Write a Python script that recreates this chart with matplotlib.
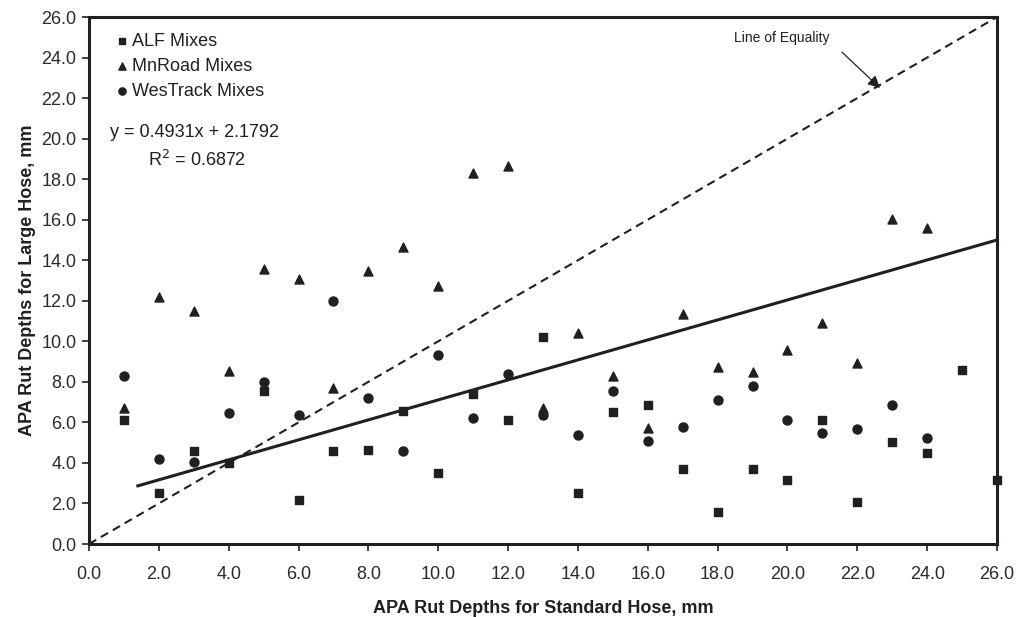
import numpy as np
import matplotlib.pyplot as plt

plt.rcParams['font.family'] = ['Liberation Sans', 'DejaVu Sans']

# rut depths (x = standard hose, y = large hose), mm
alf_x = [1, 2, 3, 4, 5, 6, 7, 8, 9, 10, 11, 12, 13, 14, 15, 16, 17, 18, 19, 20, 21, 22, 23, 24, 25, 26]
alf_y = [6.1, 2.5, 4.6, 4.0, 7.55, 2.17, 4.6, 4.65, 6.56, 3.5, 7.4, 6.1, 10.2, 2.5, 6.5, 6.86,
         3.7, 1.58, 3.7, 3.15, 6.1, 2.07, 5.03, 4.48, 8.58, 3.15]

mn_x = [1, 2, 3, 4, 5, 6, 7, 8, 9, 10, 11, 12, 13, 14, 15, 16, 17, 18, 19, 20, 21, 22, 23, 24]
mn_y = [6.7, 12.2, 11.5, 8.53, 13.55, 13.07, 7.7, 13.45, 14.65, 12.75, 18.3, 18.65, 6.7, 10.4,
        8.3, 5.72, 11.35, 8.73, 8.5, 9.57, 10.9, 8.95, 16.05, 15.6]

wes_x = [1, 2, 3, 4, 5, 6, 7, 8, 9, 10, 11, 12, 13, 14, 15, 16, 17, 18, 19, 20, 21, 22, 23, 24]
wes_y = [8.3, 4.2, 4.05, 6.45, 8.0, 6.38, 12.0, 7.2, 4.58, 9.32, 6.2, 8.4, 6.37, 5.37, 7.55, 5.1,
         5.77, 7.1, 7.82, 6.1, 5.5, 5.65, 6.85, 5.22]

slope, intercept = 0.4931, 2.1792
fit_x = [1.4, 26.0]

ticks = np.arange(0, 26.1, 2.0)
c = '#231f20'

fig = plt.figure(figsize=(10.19, 6.17), dpi=100)
ax = fig.add_axes([0.0873, 0.1183, 0.8911, 0.8541])

ax.plot([0, 26], [0, 26], ls=(0, (4, 2.6)), color=c, lw=1.5)
ax.plot(fit_x, [slope * v + intercept for v in fit_x], color=c, lw=2.2)

ax.scatter(alf_x, alf_y, marker='s', s=38, color=c, label='ALF Mixes', clip_on=False, zorder=3)
ax.scatter(mn_x, mn_y, marker='^', s=42, color=c, label='MnRoad Mixes', clip_on=False, zorder=3)
ax.scatter(wes_x, wes_y, marker='o', s=42, color=c, label='WesTrack Mixes', clip_on=False, zorder=3)

ax.set_xlim(0, 26)
ax.set_ylim(0, 26)
ax.set_xticks(ticks)
ax.set_yticks(ticks)
ax.set_xticklabels([f'{t:.1f}' for t in ticks])
ax.set_yticklabels([f'{t:.1f}' for t in ticks])
ax.tick_params(direction='out', length=5, width=1.2, colors=c, labelsize=13, labelcolor='#2b2b2b')
ax.tick_params(axis='x', pad=11)
ax.tick_params(axis='y', pad=4)
for s in ax.spines.values():
    s.set_linewidth(2.2)
    s.set_color(c)

ax.set_xlabel('APA Rut Depths for Standard Hose, mm', fontsize=13, fontweight='bold', color=c, labelpad=12)
ax.set_ylabel('APA Rut Depths for Large Hose, mm', fontsize=13, fontweight='bold', color=c, labelpad=4)

leg = ax.legend(loc='upper left', frameon=False, fontsize=13, markerscale=0.8,
                handletextpad=0.1, handlelength=1.0, labelspacing=0.45,
                borderaxespad=0.0, bbox_to_anchor=(0.018, 0.984))
for t in leg.get_texts():
    t.set_color(c)

ax.text(0.6, 20.28, 'y = 0.4931x + 2.1792', fontsize=13, color=c, ha='left', va='center')
ax.text(3.1, 18.95, 'R$^2$ = 0.6872', fontsize=13, color=c, ha='center', va='center')

ax.text(19.85, 24.95, 'Line of Equality', fontsize=10, color=c, ha='center', va='center')
ax.annotate('', xy=(22.65, 22.5), xytext=(21.56, 24.27),
            arrowprops=dict(arrowstyle='-|>', color=c, lw=0.9, shrinkA=0, shrinkB=0,
                            mutation_scale=18))

fig.savefig('out.png', dpi=100)
